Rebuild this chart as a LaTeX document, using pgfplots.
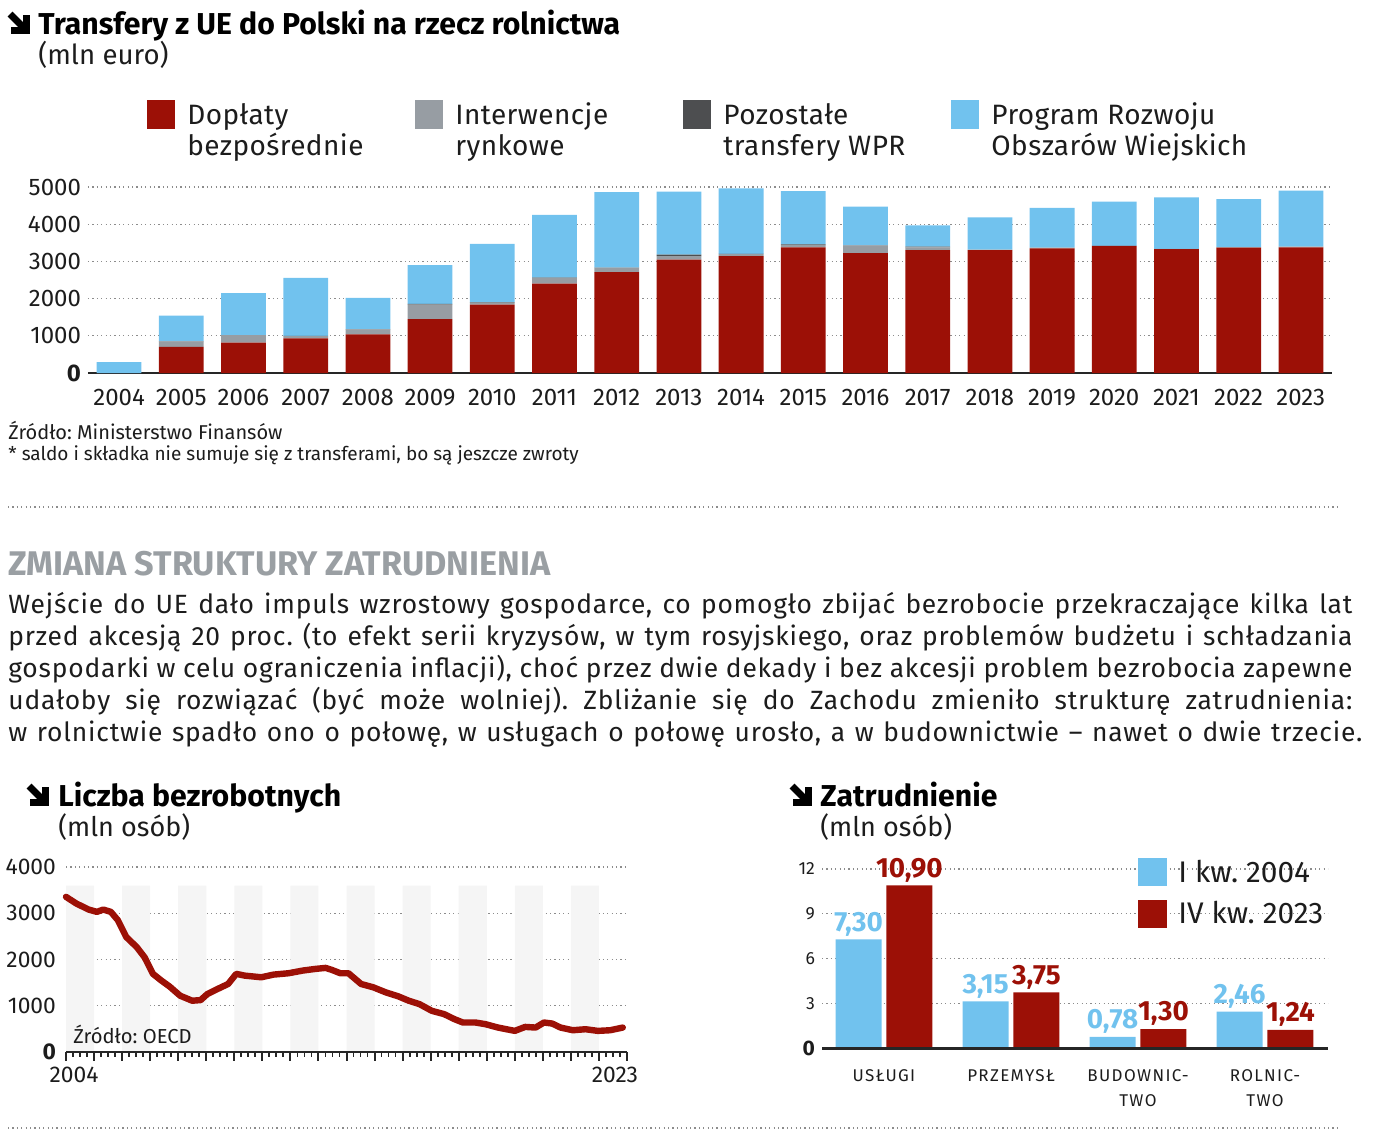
\documentclass[border=0pt]{standalone}
\usepackage{pgfplots}
\pgfplotsset{compat=1.18}
\usepackage{fontspec}
\setmainfont{Fira Sans}
\definecolor{czerw}{HTML}{9C1006}
\definecolor{nieb}{HTML}{71C2EE}
\definecolor{szary}{HTML}{979DA3}
\definecolor{ciemny}{HTML}{4D4E50}
\definecolor{naglowek}{HTML}{9A9FA3}
\definecolor{tekst}{HTML}{1C1C1C}
\newcommand{\fs}[1]{\fontsize{#1}{#1}\selectfont}
% ikona strzalki, wspolrzedne w pikselach
\newcommand{\strzalka}[2]{%
  \fill[black] (#1+15,#2+3) rectangle (#1+22,#2+22);
  \fill[black] (#1+3,#2+15) rectangle (#1+22,#2+22);
  \draw[black, line width=3.4pt] (#1+2,#2+2) -- (#1+17,#2+17);
}
\tikzset{
  kropki/.style={line width=0.6pt, dash pattern=on 0.6pt off 1.6pt, color=black!45},
}
\frenchspacing
\begin{document}
\begin{tikzpicture}
\path[use as bounding box] (0pt,0pt) rectangle (700pt,-570pt);

% ---------- wykres 1: transfery ----------
\begin{axis}[
  at={(44pt,-186.5pt)}, anchor=south west, scale only axis,
  width=622pt, height=93pt,
  xmin=2003.5, xmax=2023.5, ymin=0, ymax=5000,
  ybar stacked, bar width=0.72,
  axis line style={draw=none},
  major tick length=0pt,
  xtick={2004,...,2023},
  ytick={1000,2000,3000,4000,5000},
  extra y ticks={0}, extra y tick labels={\textbf{0}},
  extra y tick style={grid=none},
  ymajorgrids, major grid style={kropki},
  /pgf/number format/1000 sep={},
  /pgf/number format/assume math mode=true,
  ticklabel style={font=\fs{12}, text=tekst},
  xticklabel style={yshift=-4.5pt},
  clip=false,
]
\addplot[fill=czerw, draw=none] coordinates {
(2004,0)(2005,700)(2006,815)(2007,930)(2008,1040)(2009,1450)(2010,1840)
(2011,2400)(2012,2710)(2013,3050)(2014,3140)(2015,3380)(2016,3225)
(2017,3305)(2018,3305)(2019,3350)(2020,3415)(2021,3330)(2022,3370)(2023,3380)};
\addplot[fill=szary, draw=none] coordinates {
(2004,0)(2005,150)(2006,200)(2007,60)(2008,135)(2009,390)(2010,50)
(2011,160)(2012,120)(2013,95)(2014,60)(2015,55)(2016,200)
(2017,70)(2018,10)(2019,20)(2020,5)(2021,5)(2022,15)(2023,15)};
\addplot[fill=ciemny, draw=none] coordinates {
(2004,0)(2005,10)(2006,5)(2007,5)(2008,5)(2009,20)(2010,15)
(2011,5)(2012,5)(2013,35)(2014,5)(2015,20)(2016,5)
(2017,25)(2018,0)(2019,0)(2020,0)(2021,0)(2022,0)(2023,0)};
\addplot[fill=nieb, draw=none] coordinates {
(2004,290)(2005,680)(2006,1127)(2007,1559)(2008,840)(2009,1039)(2010,1564)
(2011,1683)(2012,2029)(2013,1693)(2014,1759)(2015,1436)(2016,1045)
(2017,567)(2018,870)(2019,1068)(2020,1190)(2021,1384)(2022,1289)(2023,1505)};
\draw[line width=1.3pt, black!85] (axis cs:2003.5,0) -- (axis cs:2023.5,0);
\end{axis}

% ---------- wykres 2: bezrobotni ----------
\begin{axis}[
  at={(33pt,-526pt)}, anchor=south west, scale only axis,
  width=280.5pt, height=92.5pt,
  xmin=2004, xmax=2024, ymin=0, ymax=4000,
  axis line style={draw=none},
  ytick={1000,2000,3000,4000}, ytick style={draw=none},
  extra y ticks={0}, extra y tick labels={\textbf{0}},
  ymajorgrids, major grid style={kropki},
  xtick={2004.29,2023.57}, xticklabels={2004,2023},
  x tick style={draw=none}, major tick length=0pt,
  xticklabel style={yshift=-4pt},
  /pgf/number format/1000 sep={},
  /pgf/number format/assume math mode=true,
  ticklabel style={font=\fs{11.4}, text=tekst},
  yticklabel style={xshift=-1.5pt},
  clip=false,
]
\addplot[ybar interval, draw=none, fill=black!4] coordinates {
(2004,3600)(2005,0)(2006,3600)(2007,0)(2008,3600)(2009,0)(2010,3600)(2011,0)
(2012,3600)(2013,0)(2014,3600)(2015,0)(2016,3600)(2017,0)(2018,3600)(2019,0)
(2020,3600)(2021,0)(2022,3600)(2023,0)(2024,0)};
% kreski podzialki: lata (dluzsze) i kwartaly (krotsze)
\addplot[ycomb, black!85, line width=1pt, mark=none] coordinates {
(2004,-195)(2005,-195)(2006,-195)(2007,-195)(2008,-195)(2009,-195)(2010,-195)
(2011,-195)(2012,-195)(2013,-195)(2014,-195)(2015,-195)(2016,-195)(2017,-195)
(2018,-195)(2019,-195)(2020,-195)(2021,-195)(2022,-195)(2023,-195)(2024,-195)};
\addplot[ycomb, black!85, line width=0.9pt, mark=none] coordinates {
(2004.25,-105)(2004.5,-105)(2004.75,-105)(2005.25,-105)(2005.5,-105)(2005.75,-105)
(2006.25,-105)(2006.5,-105)(2006.75,-105)(2007.25,-105)(2007.5,-105)(2007.75,-105)
(2008.25,-105)(2008.5,-105)(2008.75,-105)(2009.25,-105)(2009.5,-105)(2009.75,-105)
(2010.25,-105)(2010.5,-105)(2010.75,-105)(2011.25,-105)(2011.5,-105)(2011.75,-105)
(2012.25,-105)(2012.5,-105)(2012.75,-105)(2013.25,-105)(2013.5,-105)(2013.75,-105)
(2014.25,-105)(2014.5,-105)(2014.75,-105)(2015.25,-105)(2015.5,-105)(2015.75,-105)
(2016.25,-105)(2016.5,-105)(2016.75,-105)(2017.25,-105)(2017.5,-105)(2017.75,-105)
(2018.25,-105)(2018.5,-105)(2018.75,-105)(2019.25,-105)(2019.5,-105)(2019.75,-105)
(2020.25,-105)(2020.5,-105)(2020.75,-105)(2021.25,-105)(2021.5,-105)(2021.75,-105)
(2022.25,-105)(2022.5,-105)(2022.75,-105)(2023.25,-105)(2023.5,-105)(2023.75,-105)};
\addplot[czerw, line width=3.2pt, line join=round, line cap=round] coordinates {
(2004.0,3355)(2004.37,3210)(2004.81,3080)(2005.1,3030)(2005.33,3080)(2005.6,3030)
(2005.85,2850)(2006.15,2485)(2006.52,2270)(2006.8,2050)(2007.1,1690)(2007.4,1545)
(2007.7,1413)(2008.07,1217)(2008.5,1109)(2008.8,1123)(2009.04,1254)(2009.4,1362)
(2009.78,1471)(2010.07,1690)(2010.37,1652)(2010.96,1616)(2011.4,1674)(2011.93,1703)
(2012.44,1761)(2012.89,1797)(2013.26,1819)(2013.48,1775)(2013.78,1703)(2014.07,1703)
(2014.52,1471)(2014.96,1398)(2015.4,1290)(2015.85,1203)(2016.22,1109)(2016.6,1036)
(2017.04,891)(2017.48,819)(2017.85,710)(2018.15,638)(2018.6,638)(2018.96,601)
(2019.4,529)(2020.0,457)(2020.37,543)(2020.74,529)(2021.04,638)(2021.33,616)
(2021.63,529)(2022.07,471)(2022.52,493)(2022.96,457)(2023.4,471)(2023.85,529)};
\draw[line width=1.3pt, black!85] (axis cs:2004,0) -- (axis cs:2024,0);
\end{axis}

% ---------- wykres 3: zatrudnienie ----------
\begin{axis}[
  at={(411pt,-524.25pt)}, anchor=south west, scale only axis,
  width=253pt, height=89.75pt,
  xmin=-0.488, xmax=3.496, ymin=0, ymax=12,
  ybar, bar width=0.362,
  axis line style={draw=none}, major tick length=0pt,
  ytick={3,6,9,12},
  extra y ticks={0}, extra y tick labels={\textbf{\fs{10.5}0}},
  extra y tick style={grid=none},
  ymajorgrids, major grid style={kropki},
  xtick={0,1,2,3},
  xticklabels={USŁUGI,PRZEMYSŁ,{BUDOWNIC-\\TWO},{ROLNIC-\\TWO}},
  /pgf/number format/assume math mode=true,
  yticklabel style={font=\fs{8.8}, text=tekst},
  xticklabel style={align=center, text=tekst,
    font={\fontsize{8.5}{12.5}\selectfont\addfontfeature{LetterSpace=8}}, yshift=-7pt},
  nodes near coords={\pgfmathprintnumber[fixed,fixed zerofill,precision=2,use comma]{\pgfplotspointmeta}},
  nodes near coords style={font=\bfseries\fs{13.9}, inner sep=1.5pt},
  clip=false,
]
\addplot[fill=nieb, draw=none, bar shift=0pt, nodes near coords style={text=nieb}]
  coordinates {(-0.2,7.30)(0.8,3.15)(1.8,0.78)(2.8,2.46)};
\addplot[fill=czerw, draw=none, bar shift=0pt, nodes near coords style={text=czerw}]
  coordinates {(0.2,10.90)(1.2,3.75)(2.2,1.30)(3.2,1.24)};
\draw[line width=1.3pt, black!85] (axis cs:-0.488,0) -- (axis cs:3.496,0);
\end{axis}

% ---------- teksty (wspolrzedne w pikselach) ----------
\begin{scope}[x=0.5pt, y=-0.5pt]

\strzalka{8}{12}
\node[anchor=base west, inner sep=0, text=black] at (38,34) {\bfseries\fs{15.1}Transfery z UE do Polski na rzecz rolnictwa};
\node[anchor=base west, inner sep=0, text=tekst] at (38,64) {\fs{13.8}(mln euro)};

% legenda
\fill[czerw] (147,100) rectangle (175,129);
\fill[szary] (415,100) rectangle (443,129);
\fill[ciemny] (683,100) rectangle (711,129);
\fill[nieb] (951,100) rectangle (979,129);
\begin{scope}[every node/.style={anchor=base west, inner sep=0, text=tekst,
    font=\fs{14}\addfontfeature{LetterSpace=1.5}}]
\node at (187,124) {Dopłaty};
\node at (187,155) {bezpośrednie};
\node at (455,124) {Interwencje};
\node at (455,155) {rynkowe};
\node at (723,124) {Pozostałe};
\node at (723,155) {transfery WPR};
\node at (991,124) {Program Rozwoju};
\node at (991,155) {Obszarów Wiejskich};
\end{scope}

\node[anchor=base west, inner sep=0, text=tekst] at (8,439) {\fs{10}Źródło: Ministerstwo Finansów};
\node[anchor=base west, inner sep=0, text=tekst] at (8,460) {\fs{9.5}* saldo i składka nie sumuje się z transferami, bo są jeszcze zwroty};

\draw[kropki] (8,507) -- (1340,507);

\node[anchor=base west, inner sep=0, text=naglowek] at (8,575) {\bfseries\fs{17.1}ZMIANA STRUKTURY ZATRUDNIENIA};

\begin{scope}[every node/.style={anchor=base west, inner sep=0, text=tekst,
    font=\fs{13.2}\addfontfeature{LetterSpace=3}}]
\node at (8,613) {\makebox[672pt][s]{Wejście do UE dało impuls wzrostowy gospodarce, co pomogło zbijać bezrobocie przekraczające kilka lat}};
\node at (8,645) {\makebox[672pt][s]{przed akcesją 20 proc. (to efekt serii kryzysów, w tym rosyjskiego, oraz problemów budżetu i schładzania}};
\node at (8,677) {\makebox[672pt][s]{gospodarki w celu ograniczenia inflacji), choć przez dwie dekady i bez akcesji problem bezrobocia zapewne}};
\node at (8,709) {\makebox[672pt][s]{udałoby się rozwiązać (być może wolniej). Zbliżanie się do Zachodu zmieniło strukturę zatrudnienia:}};
\node at (8,741) {\makebox[677pt][s]{w rolnictwie spadło ono o połowę, w usługach o połowę urosło, a w budownictwie – nawet o dwie trzecie.}};
\end{scope}

\strzalka{27}{784}
\node[anchor=base west, inner sep=0, text=black] at (58,806) {\bfseries\fs{15.1}Liczba bezrobotnych};
\node[anchor=base west, inner sep=0, text=tekst] at (58,836) {\fs{13.5}(mln osób)};
\node[anchor=base west, inner sep=0, text=tekst] at (73,1043) {\fs{10.1}Źródło: OECD};

\strzalka{790}{784}
\node[anchor=base west, inner sep=0, text=black] at (820,806) {\bfseries\fs{15.1}Zatrudnienie};
\node[anchor=base west, inner sep=0, text=tekst] at (820,836) {\fs{13.5}(mln osób)};

\fill[nieb] (1138,858) rectangle (1167,886);
\fill[czerw] (1138,900) rectangle (1167,928);
\node[anchor=base west, inner sep=0, text=tekst] at (1178,882) {\fs{14.9}I kw. 2004};
\node[anchor=base west, inner sep=0, text=tekst] at (1178,923) {\fs{14.9}IV kw. 2023};

\draw[kropki] (8,1128) -- (1340,1128);
\end{scope}
\end{tikzpicture}
\end{document}
